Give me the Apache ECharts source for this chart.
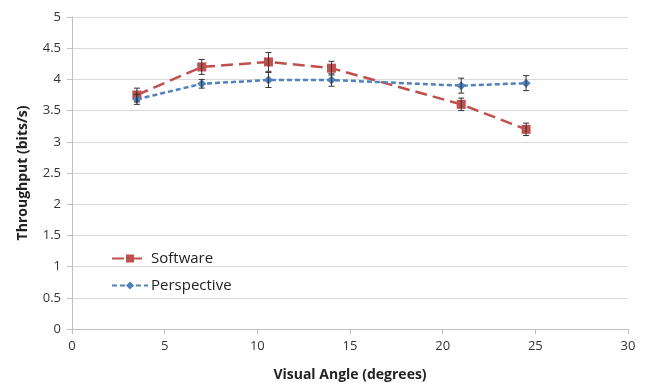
<!DOCTYPE html>
<html><head><meta charset="utf-8">
<script src="https://cdn.jsdelivr.net/npm/echarts@6/dist/echarts.min.js"></script>
<style>html,body{margin:0;padding:0;background:#fff}#c{width:648px;height:385px}</style>
</head><body><div id="c"></div>
<script>
const xAngles = [3.5, 7, 10.6, 14, 21, 24.5];
const softwareVals = [3.75, 4.2, 4.28, 4.18, 3.6, 3.2];
const softwareErr = [0.11, 0.12, 0.15, 0.11, 0.1, 0.1];
const perspectiveVals = [3.68, 3.93, 3.99, 3.99, 3.9, 3.94];
const perspectiveErr = [0.08, 0.07, 0.12, 0.1, 0.12, 0.12];
const xTicks = [0, 5, 10, 15, 20, 25, 30];
const yTicks = [0, 0.5, 1, 1.5, 2, 2.5, 3, 3.5, 4, 4.5, 5];

const FONT = '"Open Sans", "Liberation Sans", sans-serif';
const RED = '#c0504d', BLUE = '#4f81bd';

function errData(vals, errs){ return xAngles.map((x,i)=>[x, vals[i]-errs[i], vals[i]+errs[i]]); }
function errRender(params, api){
  const x = api.value(0);
  const lo = api.coord([x, api.value(1)]);
  const hi = api.coord([x, api.value(2)]);
  const w = 3;
  const style = {stroke:'#333', lineWidth:1};
  return {type:'group', children:[
    {type:'line', shape:{x1:lo[0],y1:lo[1],x2:hi[0],y2:hi[1]}, style},
    {type:'line', shape:{x1:lo[0]-w,y1:lo[1],x2:lo[0]+w,y2:lo[1]}, style},
    {type:'line', shape:{x1:hi[0]-w,y1:hi[1],x2:hi[0]+w,y2:hi[1]}, style}
  ]};
}

const chart = echarts.init(document.getElementById('c'), null, {renderer:'canvas'});
chart.setOption({
  animation:false,
  grid:{left:72, right:20, top:17, bottom:56, outerBoundsMode:'none', containLabel:false},
  xAxis:{type:'value', min:0, max:30, interval:5,
    name:'Visual Angle (degrees)', nameLocation:'middle', nameGap:39,
    nameTextStyle:{fontFamily:FONT, fontWeight:'bold', fontSize:14, color:'#222'},
    axisLine:{show:true, lineStyle:{color:'#bfbfbf'}},
    axisTick:{show:true, length:5, lineStyle:{color:'#bfbfbf'}},
    axisLabel:{fontFamily:FONT, fontSize:13, color:'#333', margin:11},
    splitLine:{show:false}},
  yAxis:{type:'value', min:0, max:5, interval:0.5,
    name:'Throughput (bits/s)', nameLocation:'middle', nameGap:42,
    nameTextStyle:{fontFamily:FONT, fontWeight:'bold', fontSize:14, color:'#222'},
    axisLine:{show:true, lineStyle:{color:'#bfbfbf'}},
    axisTick:{show:true, length:5, lineStyle:{color:'#bfbfbf'}},
    axisLabel:{fontFamily:FONT, fontSize:13, color:'#333', margin:11,
      formatter:v=>String(v)},
    splitLine:{show:true, lineStyle:{color:'#d9d9d9'}}},
  legend:{orient:'vertical', left:106, top:246, itemGap:12, itemWidth:36, itemHeight:10,
    textStyle:{fontFamily:FONT, fontSize:15, color:'#222', padding:[0,0,0,-2]},
    data:['Software','Perspective']},
  series:[
    {name:'Software', type:'line', data:xAngles.map((x,i)=>[x,softwareVals[i]]),
      symbol:'rect', symbolSize:9, color:RED,
      lineStyle:{color:RED, width:2.5, type:[12,6]}, itemStyle:{color:RED}, z:3},
    {name:'Perspective', type:'line', data:xAngles.map((x,i)=>[x,perspectiveVals[i]]),
      symbol:'diamond', symbolSize:9, color:BLUE,
      lineStyle:{color:BLUE, width:2.5, type:[5,3]}, itemStyle:{color:BLUE}, z:3},
    {type:'custom', renderItem:errRender, data:errData(softwareVals, softwareErr), z:4, silent:true},
    {type:'custom', renderItem:errRender, data:errData(perspectiveVals, perspectiveErr), z:4, silent:true}
  ]
});
</script></body></html>
